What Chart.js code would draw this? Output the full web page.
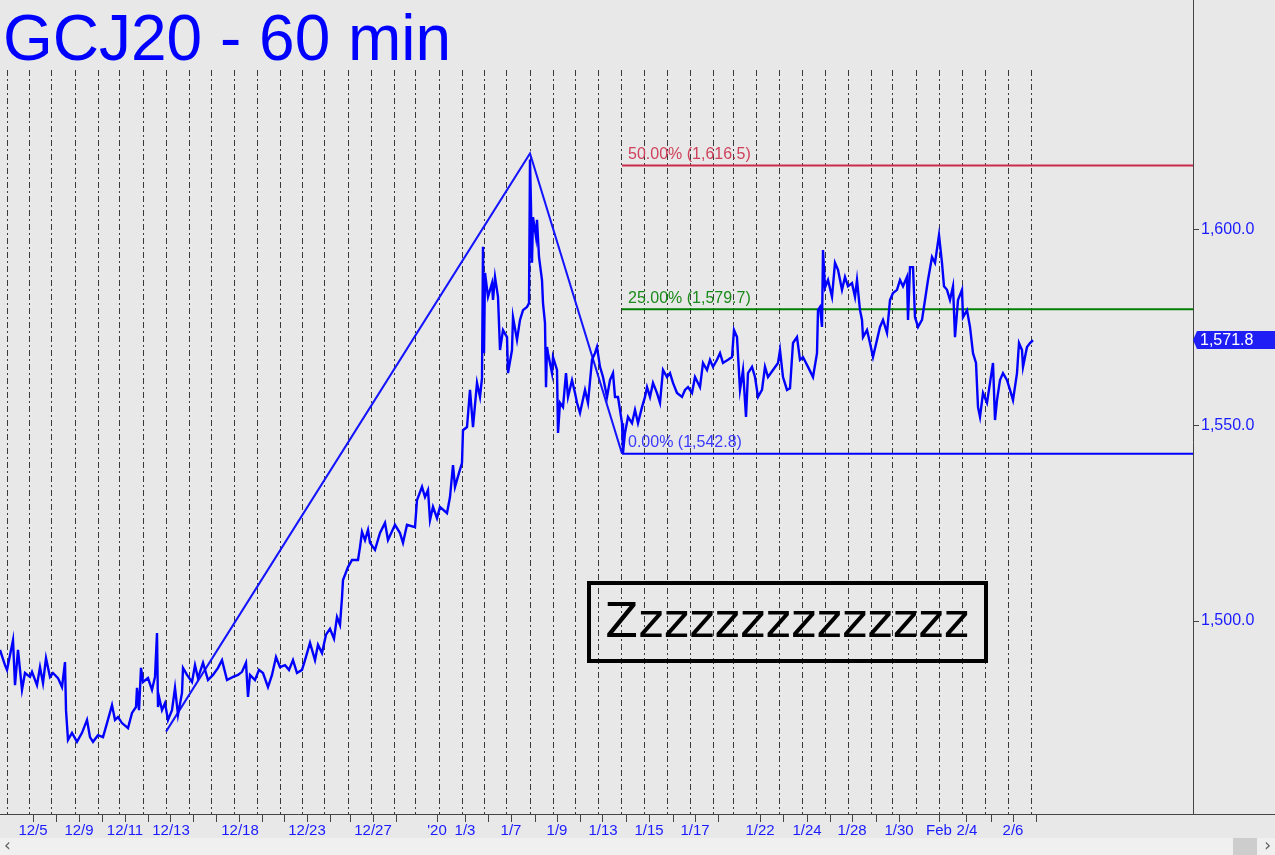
<!DOCTYPE html>
<html>
<head>
<meta charset="utf-8">
<title>GCJ20 - 60 min</title>
<script src="https://cdn.jsdelivr.net/npm/chart.js@4.4.1/dist/chart.umd.min.js"></script>
<style>
  html, body { margin: 0; padding: 0; background: #e8e8e8; }
  #wrap { position: relative; width: 1275px; height: 855px; overflow: hidden; }
  canvas { display: block; }
  #scroll { position: absolute; left: 0; top: 838px; width: 1275px; height: 17px; background: #f0f0f0;
            font-family: "DejaVu Sans", sans-serif; font-size: 17px; line-height: 17px; color: #606060; }
  #scroll .l { position: absolute; left: 4px; top: -1px; }
  #scroll .r { position: absolute; right: 4px; top: -1px; }
  #scroll .thumb { position: absolute; left: 1233px; top: 0; width: 24px; height: 17px; background: #cdcdcd; }
</style>
</head>
<body>
<div id="wrap">
  <canvas id="chart" width="1275" height="855"></canvas>
  <div id="scroll"><span class="l">‹</span><div class="thumb"></div><span class="r">›</span></div>
</div>
<script>
// hourly bar number (from 12/4 evening) and price
const bars = [
  0, 5, 7, 13, 15, 18, 22, 25, 30, 32, 37, 40, 43, 46, 50, 53, 58, 62, 65, 66,
  68, 72, 77, 82, 87, 90, 93, 98, 103, 107, 112, 115, 118, 122, 128, 132, 136, 137, 139, 141,
  143, 148, 152, 155, 157, 158, 159, 162, 165, 168, 172, 175, 178, 182, 183, 187, 192, 195, 198, 203,
  208, 213, 218, 222, 227, 233, 238, 242, 246, 248, 250, 255, 259, 263, 268, 272, 276, 280, 285, 289,
  293, 297, 302, 305, 310, 315, 318, 322, 326, 330, 334, 337, 340, 342, 343, 348, 352, 358, 360, 362,
  365, 368, 370, 375, 380, 385, 388, 395, 400, 403, 407, 415, 417, 422, 425, 428, 430, 433, 437, 440,
  447, 450, 453, 455, 459, 462, 463, 467, 470, 473, 477, 480, 482, 483, 484, 485, 488, 492, 493, 495,
  498, 500, 503, 507, 508, 512, 513, 517, 520, 523, 527, 529, 530, 531, 532, 533, 536, 537, 539, 542,
  543, 545, 546, 547, 548, 552, 553, 557, 558, 560, 563, 566, 568, 572, 575, 577, 580, 585, 588, 592,
  595, 597, 600, 603, 607, 610, 613, 615, 618, 622, 623, 625, 628, 632, 635, 638, 642, 645, 647, 650,
  653, 657, 660, 663, 667, 670, 673, 677, 682, 685, 688, 692, 695, 700, 703, 707, 710, 713, 717, 720,
  723, 728, 732, 734, 737, 740, 743, 746, 748, 752, 755, 758, 762, 765, 768, 773, 778, 780, 783, 787,
  790, 793, 797, 800, 803, 808, 813, 817, 818, 820, 822, 823, 825, 828, 832, 835, 838, 842, 845, 848,
  852, 855, 857, 860, 862, 863, 867, 870, 873, 877, 880, 883, 887, 890, 893, 897, 900, 903, 907, 908,
  910, 913, 915, 918, 922, 925, 928, 932, 935, 939, 942, 944, 947, 950, 953, 955, 958, 962, 963, 967,
  970, 973, 976, 978, 980, 983, 987, 990, 993, 995, 997, 1000, 1003, 1007, 1010, 1013, 1017, 1019, 1022, 1023,
  1027, 1030, 1033
];
const closes = [
  1492.6, 1488.7, 1487.5, 1495.1, 1483.6, 1492.6, 1482.4, 1486.7, 1485.7, 1487.0, 1483.6, 1488.2, 1484.1, 1490.5, 1485.7, 1486.7, 1485.4, 1483.1, 1489.5, 1477.2,
  1469.6, 1471.4, 1469.1, 1471.4, 1474.7, 1470.3, 1469.1, 1470.8, 1470.3, 1473.9, 1478.5, 1474.7, 1475.4, 1473.9, 1472.6, 1476.5, 1478.0, 1482.9, 1477.2, 1488.0,
  1484.4, 1485.4, 1482.4, 1485.7, 1496.9, 1478.0, 1480.6, 1477.2, 1479.0, 1474.7, 1477.2, 1482.9, 1476.0, 1481.6, 1488.0, 1486.2, 1484.4, 1488.7, 1485.4, 1489.3,
  1484.9, 1486.2, 1488.0, 1490.0, 1484.9, 1485.7, 1486.2, 1487.0, 1489.3, 1480.6, 1486.2, 1484.9, 1487.5, 1486.7, 1483.1, 1486.2, 1490.8, 1488.2, 1488.7, 1487.5,
  1490.0, 1486.7, 1487.5, 1490.0, 1494.4, 1490.0, 1493.9, 1491.8, 1496.5, 1498.0, 1495.5, 1501.0, 1499.0, 1506.0, 1510.5, 1513.8, 1515.6, 1515.6, 1518.9, 1522.8,
  1520.7, 1523.3, 1520.0, 1518.2, 1522.5, 1525.1, 1520.7, 1524.6, 1522.5, 1520.0, 1524.6, 1524.0, 1530.9, 1534.3, 1531.7, 1533.5, 1525.8, 1529.2, 1526.3, 1529.2,
  1527.6, 1531.7, 1539.9, 1534.3, 1537.9, 1540.4, 1548.8, 1549.6, 1559.1, 1549.6, 1560.9, 1557.3, 1562.1, 1595.7, 1568.5, 1589.0, 1582.9, 1586.4, 1582.1, 1588.0,
  1582.9, 1569.3, 1574.4, 1572.6, 1563.4, 1569.3, 1577.7, 1571.9, 1577.0, 1579.5, 1580.3, 1581.3, 1618.0, 1605.9, 1591.6, 1603.3, 1598.2, 1602.6, 1593.1, 1587.2,
  1581.3, 1576.2, 1559.8, 1570.1, 1568.5, 1563.4, 1567.5, 1564.2, 1548.1, 1555.8, 1554.7, 1563.4, 1557.3, 1561.6, 1558.3, 1555.8, 1553.2, 1559.1, 1555.8, 1566.8,
  1568.5, 1570.1, 1565.0, 1562.4, 1557.3, 1561.6, 1563.4, 1557.3, 1557.3, 1550.6, 1543.0, 1548.1, 1552.2, 1550.6, 1554.0, 1550.6, 1554.7, 1557.3, 1559.8, 1557.3,
  1560.9, 1558.3, 1555.8, 1564.2, 1562.4, 1563.4, 1560.9, 1558.3, 1557.3, 1559.1, 1559.8, 1558.3, 1562.4, 1559.8, 1566.0, 1564.2, 1566.8, 1565.0, 1566.8, 1568.5,
  1566.0, 1566.8, 1567.5, 1574.4, 1572.6, 1559.1, 1564.2, 1552.2, 1563.4, 1565.0, 1562.4, 1557.3, 1559.1, 1565.0, 1562.4, 1564.2, 1566.0, 1569.3, 1562.4, 1559.1,
  1559.5, 1571.1, 1572.6, 1566.8, 1567.5, 1565.0, 1562.4, 1568.5, 1579.5, 1580.3, 1575.2, 1594.9, 1585.3, 1587.2, 1582.9, 1591.6, 1589.8, 1584.7, 1588.0, 1585.6,
  1586.4, 1582.9, 1587.2, 1579.5, 1577.0, 1572.6, 1574.4, 1571.1, 1567.5, 1571.9, 1575.2, 1577.0, 1573.7, 1582.1, 1583.9, 1584.7, 1587.2, 1585.6, 1588.0, 1577.0,
  1590.5, 1590.5, 1577.7, 1575.2, 1577.0, 1582.1, 1587.2, 1593.1, 1591.6, 1598.7, 1591.6, 1585.6, 1584.7, 1582.1, 1585.6, 1572.6, 1582.1, 1584.7, 1577.7, 1579.5,
  1575.2, 1568.5, 1566.0, 1554.7, 1552.2, 1558.3, 1555.8, 1560.9, 1566.0, 1551.4, 1556.5, 1561.6, 1563.4, 1561.6, 1559.1, 1556.5, 1563.4, 1571.1, 1569.3, 1565.0,
  1570.1, 1571.1, 1571.8
];

// date ticks along the bottom (empty string = tick mark only)
const tickBars = [33, 56, 79, 102, 125, 148, 171, 193, 216, 240, 262, 284, 307, 330, 350, 373, 396,
  437, 465, 488, 511, 535, 557, 580, 603, 626, 649, 673, 695, 718, 760, 783, 807, 830, 852, 876, 899,
  939, 967, 991, 1013, 1036];
const tickLabels = ['12/5', '', '12/9', '', '12/11', '', '12/13', '', '', '12/18', '', '', '12/23', '', '', '12/27', '',
  "'20", '1/3', '', '1/7', '', '1/9', '', '1/13', '', '1/15', '', '1/17', '', '1/22', '', '1/24', '', '1/28', '', '1/30',
  'Feb', '2/4', '', '2/6', ''];
// session starts (dashed vertical lines)
const sessionBars = [7, 30, 52, 75, 98, 120, 143, 166, 189, 211, 234, 257, 280, 302, 325, 348, 371, 394, 416,
  439, 462, 484, 507, 530, 553, 575, 598, 621, 644, 667, 690, 713, 733, 756, 779, 802, 825, 848, 871, 893,
  916, 939, 962, 985, 1008, 1031];

const priceTicks = [1500, 1550, 1600];
const trendBars = [166, 530, 622];
const trendPrices = [1471.7, 1619.6, 1542.8];
const fibNames = ['50.00%', '25.00%', '0.00%'];
const fibPrices = [1616.5, 1579.7, 1542.8];
const fibColors = ['#cc2a48', '#008000', '#0000ff'];
const fibTextColors = ['#d0405a', '#1a8a1a', '#3a3aff'];
const fibStartBar = 622;
const lastPrice = 1571.8;

const X_MIN = 0, X_MAX = 1193;
const Y_MIN = 1450.64, Y_MAX = 1640.92;
const BLUE = '#0000ff';
const FONT = '"Liberation Sans", Arial, sans-serif';

function fmt(v) {
  return v.toLocaleString('en-US', { minimumFractionDigits: 1, maximumFractionDigits: 1 });
}

const datasets = [
  {
    data: bars.map((b, i) => ({ x: b, y: closes[i] })),
    borderColor: BLUE, borderWidth: 2.4, pointRadius: 0, tension: 0
  },
  {
    data: trendBars.map((b, i) => ({ x: b, y: trendPrices[i] })),
    borderColor: '#1414ff', borderWidth: 2, pointRadius: 0, tension: 0
  }
];
fibPrices.forEach((p, i) => {
  datasets.push({
    data: [{ x: fibStartBar, y: p }, { x: X_MAX, y: p }],
    borderColor: fibColors[i], borderWidth: 2, pointRadius: 0
  });
});

const decor = {
  id: 'decor',
  afterDatasetsDraw(chart) {
    const ctx = chart.ctx;
    const xs = chart.scales.x, ys = chart.scales.y;
    const area = chart.chartArea;
    ctx.save();

    // fib labels
    ctx.font = '16px ' + FONT;
    ctx.textBaseline = 'middle';
    ctx.textAlign = 'left';
    fibPrices.forEach((p, i) => {
      ctx.fillStyle = fibTextColors[i];
      ctx.fillText(fibNames[i] + ' (' + fmt(p) + ')', xs.getPixelForValue(fibStartBar) + 6, ys.getPixelForValue(p) - 11);
    });

    // axis border extensions
    ctx.strokeStyle = '#444';
    ctx.lineWidth = 1;
    ctx.beginPath();
    ctx.moveTo(area.right + 0.5, 0);
    ctx.lineTo(area.right + 0.5, area.top);
    ctx.moveTo(area.right, area.bottom + 0.5);
    ctx.lineTo(chart.width, area.bottom + 0.5);
    ctx.stroke();

    // last price tag
    const yp = Math.round(ys.getPixelForValue(lastPrice));
    const x0 = area.right;
    ctx.fillStyle = '#1f1ff5';
    ctx.beginPath();
    ctx.moveTo(x0, yp);
    ctx.lineTo(x0 + 4, yp - 9);
    ctx.lineTo(chart.width, yp - 9);
    ctx.lineTo(chart.width, yp + 9);
    ctx.lineTo(x0 + 4, yp + 9);
    ctx.closePath();
    ctx.fill();
    ctx.fillStyle = '#ffffff';
    ctx.font = '16px ' + FONT;
    ctx.fillText(fmt(lastPrice), x0 + 7, yp + 1);

    // title
    ctx.fillStyle = BLUE;
    ctx.font = '64px ' + FONT;
    ctx.textBaseline = 'alphabetic';
    ctx.fillText('GCJ20 - 60 min', 3, 60);

    // comment box
    ctx.strokeStyle = '#000';
    ctx.lineWidth = 4;
    ctx.strokeRect(589, 583, 397, 78);
    ctx.fillStyle = '#000';
    ctx.font = '48.5px "DejaVu Sans", sans-serif';
    ctx.fillText('Zzzzzzzzzzzzzz', 605, 637);
    ctx.restore();
  }
};

new Chart(document.getElementById('chart'), {
  type: 'line',
  data: { datasets },
  plugins: [decor],
  options: {
    responsive: false,
    animation: false,
    events: [],
    layout: { padding: { top: 70, left: 0, right: 0, bottom: 0 } },
    plugins: { legend: { display: false }, tooltip: { enabled: false } },
    scales: {
      x: {
        type: 'linear', position: 'bottom', min: X_MIN, max: X_MAX,
        afterBuildTicks: s => { s.ticks = tickBars.map(v => ({ value: v })); },
        afterFit: s => { s.height = 41; },
        ticks: {
          autoSkip: false, maxRotation: 0, padding: 0, color: '#1a1aff',
          font: { family: FONT, size: 15 },
          callback: (v, i) => tickLabels[i]
        },
        grid: { drawOnChartArea: false, drawTicks: true, tickLength: 8, tickColor: '#444', color: '#444' },
        border: { color: '#444', width: 1 }
      },
      sessions: {
        type: 'linear', position: 'top', min: X_MIN, max: X_MAX,
        afterBuildTicks: s => { s.ticks = sessionBars.map(v => ({ value: v })); },
        afterFit: s => { s.height = 0; },
        ticks: { display: false },
        grid: { drawOnChartArea: true, drawTicks: false, color: '#3a3a3a', lineWidth: 1 },
        border: { display: false, dash: [6, 3, 2, 3] }
      },
      y: {
        type: 'linear', position: 'right', min: Y_MIN, max: Y_MAX,
        afterBuildTicks: s => { s.ticks = priceTicks.map(v => ({ value: v })); },
        afterFit: s => { s.width = 82; },
        ticks: { padding: 2, color: '#1a1aff', font: { family: FONT, size: 16 }, callback: v => fmt(v) },
        grid: { drawOnChartArea: false, drawTicks: true, tickLength: 6, tickColor: '#444' },
        border: { color: '#444', width: 1 }
      }
    }
  }
});
</script>
</body>
</html>
